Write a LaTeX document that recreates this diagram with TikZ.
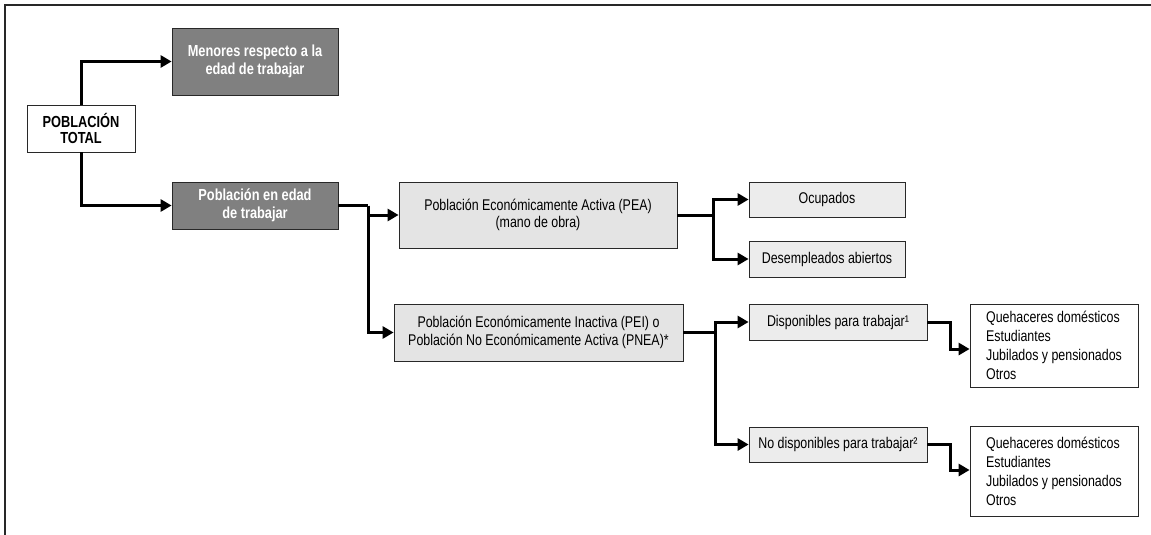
\documentclass[tikz,border=0pt]{standalone}
\usepackage{fontspec}
\setmainfont[FakeStretch=0.8]{Liberation Sans}
\usetikzlibrary{arrows.meta}
\definecolor{darkbox}{RGB}{128,128,128}
\definecolor{lightbox}{RGB}{228,228,228}
\definecolor{paleb}{RGB}{236,236,236}
\definecolor{edge}{RGB}{40,40,40}
\tikzset{
  box/.style={draw=edge, line width=0.8pt, inner sep=0pt, align=center, anchor=center},
  darkcell/.style={box, fill=darkbox, text=white, font=\bfseries\fontsize{16}{18}\selectfont},
  totalcell/.style={box, fill=white, font=\bfseries\fontsize{16}{16.5}\selectfont},
  lightcell/.style={box, fill=lightbox, font=\fontsize{15.5}{17.5}\selectfont},
  palecell/.style={box, fill=paleb, font=\fontsize{15.5}{17.5}\selectfont},
  listcell/.style={box, fill=white, align=left, font=\fontsize{15.5}{19}\selectfont},
  link/.style={line width=3pt, line join=miter, -{Triangle[length=11pt,width=12pt]}},
  bar/.style={line width=3pt, line join=miter},
}
\begin{document}
\begin{tikzpicture}[x=1pt, y=-1pt]
\useasboundingbox (0,0) rectangle (1151,535);
% frame
\draw[edge, line width=2pt] (5,535) -- (5,5) -- (1151,5);

% boxes
\node[darkcell, minimum width=166pt, minimum height=67pt] (menores) at (255,61.5)
  {Menores respecto a la\\edad de trabajar};
\node[totalcell, minimum width=108pt, minimum height=47pt] (total) at (81,128.5)
  {POBLACIÓN\\TOTAL};
\node[darkcell, minimum width=166pt, minimum height=47pt] (edad) at (255,205.5)
  {Población en edad\\de trabajar};
\node[lightcell, minimum width=278pt, minimum height=66pt] (pea) at (538,215)
  {Población Económicamente Activa (PEA)\\(mano de obra)};
\node[lightcell, minimum width=289pt, minimum height=57pt] (pei) at (538.5,332.5)
  {Población Económicamente Inactiva (PEI) o\\Población No Económicamente Activa (PNEA)*};
\node[palecell, minimum width=156pt, minimum height=35pt] (ocup) at (827,199.5)
  {Ocupados};
\node[palecell, minimum width=156pt, minimum height=36pt] (desemp) at (827,259)
  {Desempleados abiertos};
\node[palecell, minimum width=178pt, minimum height=36pt] (disp) at (838,322)
  {Disponibles para trabajar¹};
\node[palecell, minimum width=178pt, minimum height=35pt] (nodisp) at (838,444.5)
  {No disponibles para trabajar²};
\node[listcell, minimum width=168pt, minimum height=83pt] (listA) at (1054,345.5)
  {Quehaceres domésticos\\Estudiantes\\Jubilados y pensionados\\Otros};
\node[listcell, minimum width=168pt, minimum height=90pt] (listB) at (1054,471)
  {Quehaceres domésticos\\Estudiantes\\Jubilados y pensionados\\Otros};

% branch points
\coordinate (jEdad) at (368,205.5);
\coordinate (jPea) at (713,215);
\coordinate (jPei) at (715,332.5);
\coordinate (kDisp) at (950,349);
\coordinate (kNodisp) at (950,470);

% connectors
\draw[link] (total.north) |- (menores.west);
\draw[link] (total.south) |- (edad.west);

\draw[bar] (edad.east) -- (jEdad);
\draw[link] (jEdad) |- (pea.west);
\draw[link] (jEdad) |- (pei.west);

\draw[bar] (pea.east) -- (jPea);
\draw[link] (jPea) |- (ocup.west);
\draw[link] (jPea) |- (desemp.west);

\draw[bar] (pei.east) -- (jPei);
\draw[link] (jPei) |- (disp.west);
\draw[link] (jPei) |- (nodisp.west);

\draw[link] (disp.east) -| (kDisp) -- (kDisp -| listA.west);
\draw[link] (nodisp.east) -| (kNodisp) -- (kNodisp -| listB.west);
\end{tikzpicture}
\end{document}
